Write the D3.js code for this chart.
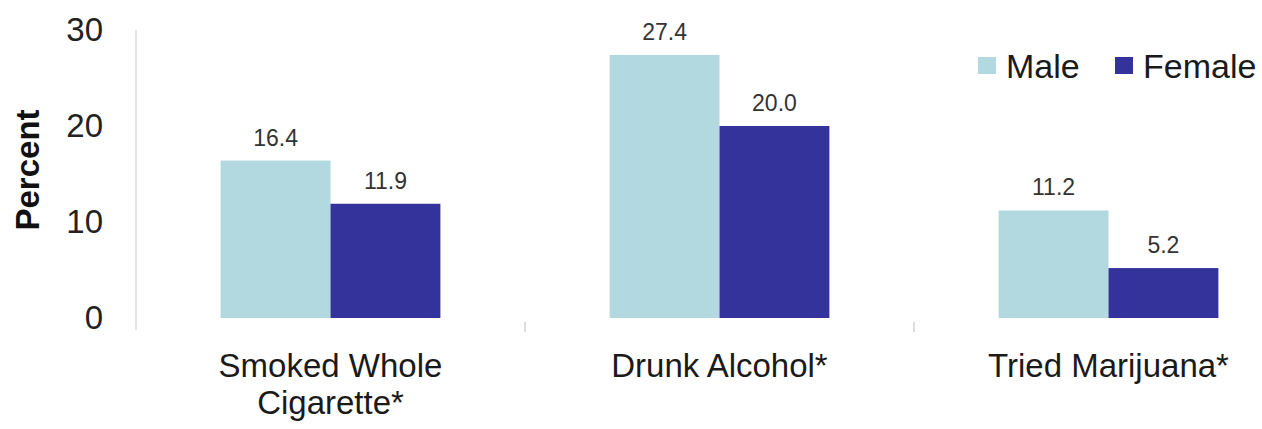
<!DOCTYPE html>
<html>
<head>
<meta charset="utf-8">
<script src="https://cdn.jsdelivr.net/npm/d3@7"></script>
<style>
  body { margin: 0; background: #fff; }
  svg text { font-family: "Liberation Sans", Arial, sans-serif; }
</style>
</head>
<body>
<svg id="chart" width="1262" height="429"></svg>
<script>
// data
const categories = [['Smoked Whole', 'Cigarette*'], ['Drunk Alcohol*'], ['Tried Marijuana*']]
const catKeys = ['smoke', 'alcohol', 'marijuana']
const groups = ['Male', 'Female']
const maleValues = [16.4, 27.4, 11.2]
const femaleValues = [11.9, 20.0, 5.2]
const yTicks = [0, 10, 20, 30]

const colors = { Male: '#b2d9df', Female: '#33339b' }

const rows = catKeys.map((k, i) => ({ key: k, label: categories[i], Male: maleValues[i], Female: femaleValues[i] }))

const svg = d3.select('#chart')

// scales
const x0 = d3.scaleBand().domain(catKeys).range([136, 1303]).padding(0)
const x1 = d3.scaleBand().domain(groups).range([0, x0.bandwidth()]).paddingInner(0).paddingOuter(0.77)
const y = d3.scaleLinear().domain([0, 30]).range([318, 30])

// y axis
const yAxis = svg.append('g')
    .attr('transform', `translate(${x0.range()[0]},0)`)
    .call(d3.axisLeft(y).tickValues(yTicks).tickSize(0).tickPadding(33))
yAxis.select('.domain').remove()
yAxis.selectAll('text')
    .attr('font-size', 33)
    .attr('fill', '#222')
    .style('font-family', '"Liberation Sans", Arial, sans-serif')

svg.append('line')
    .attr('x1', x0.range()[0]).attr('x2', x0.range()[0])
    .attr('y1', y(30)).attr('y2', y(0) + 12)
    .attr('stroke', '#dcdcdc').attr('stroke-width', 1.5)

// small separators between categories
svg.selectAll('.sep')
    .data(catKeys.slice(1))
    .join('line')
    .attr('class', 'sep')
    .attr('x1', d => x0(d)).attr('x2', d => x0(d))
    .attr('y1', y(0) + 4).attr('y2', y(0) + 14)
    .attr('stroke', '#d0d0d0').attr('stroke-width', 1.5)

// bars
const g = svg.selectAll('.grp')
    .data(rows)
    .join('g')
    .attr('class', 'grp')
    .attr('transform', d => `translate(${x0(d.key)},0)`)

g.selectAll('rect')
    .data(d => groups.map(s => ({ s, v: d[s] })))
    .join('rect')
    .attr('x', d => x1(d.s))
    .attr('width', x1.bandwidth())
    .attr('y', d => y(d.v))
    .attr('height', d => y(0) - y(d.v))
    .attr('fill', d => colors[d.s])

g.selectAll('.val')
    .data(d => groups.map(s => ({ s, v: d[s] })))
    .join('text')
    .attr('class', 'val')
    .attr('x', d => x1(d.s) + x1.bandwidth() / 2)
    .attr('y', d => y(d.v) - 15)
    .attr('text-anchor', 'middle')
    .attr('font-size', 23)
    .attr('fill', '#333')
    .text(d => d3.format('.1f')(d.v))

// category labels
svg.selectAll('.cat')
    .data(rows)
    .join('text')
    .attr('class', 'cat')
    .attr('x', d => x0(d.key) + x0.bandwidth() / 2)
    .attr('y', 377)
    .attr('text-anchor', 'middle')
    .attr('font-size', 33)
    .attr('fill', '#1a1a1a')
    .selectAll('tspan')
    .data(d => d.label)
    .join('tspan')
    .attr('x', function() { return this.parentNode.getAttribute('x') })
    .attr('dy', (d, i) => i === 0 ? 0 : 37)
    .text(d => d)

// y title
svg.append('text')
    .attr('transform', 'translate(39,170) rotate(-90)')
    .attr('text-anchor', 'middle')
    .attr('font-size', 33)
    .attr('font-weight', 'bold')
    .attr('fill', '#111')
    .text('Percent')

// legend
const legendX = [978, 1115]
const legend = svg.selectAll('.leg')
    .data(groups)
    .join('g')
    .attr('class', 'leg')
    .attr('transform', (d, i) => `translate(${legendX[i]},57)`)
legend.append('rect')
    .attr('width', 18).attr('height', 17)
    .attr('fill', d => colors[d])
legend.append('text')
    .attr('x', 28).attr('y', 21)
    .attr('font-size', 34)
    .attr('fill', '#1a1a1a')
    .text(d => d)
</script>
</body>
</html>
